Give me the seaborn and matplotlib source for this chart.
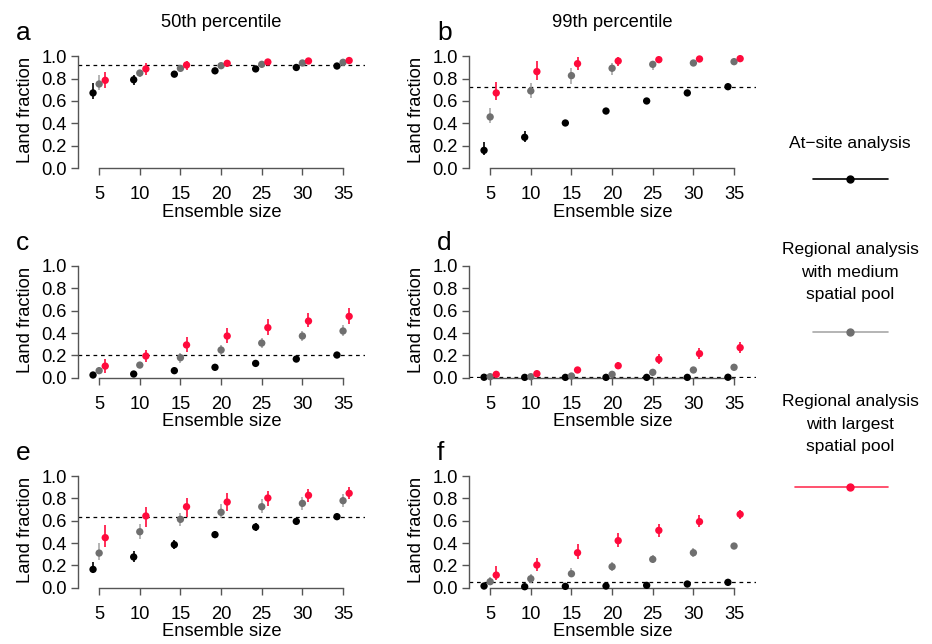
import numpy as np
import pandas as pd
import matplotlib.pyplot as plt
import seaborn as sns
from matplotlib.lines import Line2D

sns.set_style("ticks")
plt.rcParams['font.family'] = ['Liberation Sans', 'DejaVu Sans']
plt.rcParams['text.color'] = 'black'
plt.rcParams['axes.labelcolor'] = 'black'
plt.rcParams['xtick.labelcolor'] = 'black'
plt.rcParams['ytick.labelcolor'] = 'black'

# ensemble sizes on the x axis
sizes = [5, 10, 15, 20, 25, 30, 35]
methods = ["At-site", "Medium pool", "Largest pool"]

# each panel: rows = at-site, medium pool, largest pool
a_val = [[0.672, 0.79, 0.84, 0.87, 0.887, 0.90, 0.913],
         [0.752, 0.85, 0.892, 0.916, 0.928, 0.94, 0.946],
         [0.785, 0.887, 0.922, 0.937, 0.949, 0.958, 0.962]]
a_lo = [[0.62, 0.74, 0.82, 0.855, 0.875, 0.89, 0.905],
        [0.695, 0.815, 0.87, 0.90, 0.915, 0.93, 0.937],
        [0.716, 0.836, 0.88, 0.905, 0.93, 0.94, 0.95]]
a_hi = [[0.76, 0.835, 0.86, 0.885, 0.90, 0.91, 0.922],
        [0.836, 0.88, 0.915, 0.93, 0.94, 0.95, 0.955],
        [0.86, 0.94, 0.958, 0.97, 0.97, 0.975, 0.975]]
a_thr = 0.919

b_val = [[0.158, 0.275, 0.403, 0.51, 0.60, 0.672, 0.728],
         [0.457, 0.69, 0.827, 0.893, 0.928, 0.94, 0.952],
         [0.672, 0.863, 0.934, 0.958, 0.97, 0.976, 0.979]]
b_lo = [[0.113, 0.233, 0.373, 0.49, 0.585, 0.66, 0.72],
        [0.403, 0.63, 0.755, 0.836, 0.88, 0.91, 0.935],
        [0.612, 0.785, 0.88, 0.916, 0.945, 0.96, 0.965]]
b_hi = [[0.233, 0.331, 0.433, 0.53, 0.615, 0.685, 0.74],
        [0.537, 0.764, 0.899, 0.94, 0.958, 0.97, 0.965],
        [0.77, 0.955, 0.994, 0.994, 0.99, 0.99, 0.99]]
b_thr = 0.728

c_val = [[0.024, 0.033, 0.063, 0.093, 0.128, 0.167, 0.203],
         [0.063, 0.113, 0.179, 0.248, 0.31, 0.373, 0.418],
         [0.104, 0.194, 0.293, 0.373, 0.448, 0.507, 0.549]]
c_lo = [[0.01, 0.02, 0.05, 0.08, 0.115, 0.155, 0.19],
        [0.033, 0.084, 0.134, 0.203, 0.269, 0.331, 0.373],
        [0.045, 0.143, 0.233, 0.307, 0.382, 0.451, 0.481]]
c_hi = [[0.05, 0.05, 0.078, 0.108, 0.142, 0.18, 0.215],
        [0.098, 0.143, 0.224, 0.293, 0.352, 0.418, 0.472],
        [0.167, 0.248, 0.361, 0.448, 0.522, 0.582, 0.621]]
c_thr = 0.2

d_val = [[0.004, 0.003, 0.003, 0.003, 0.003, 0.003, 0.004],
         [0.009, 0.009, 0.015, 0.03, 0.048, 0.069, 0.093],
         [0.03, 0.036, 0.069, 0.107, 0.164, 0.215, 0.269]]
d_lo = [[0.001, 0.0, 0.0, 0.0, 0.0, 0.0, 0.001],
        [0.002, 0.003, 0.006, 0.018, 0.033, 0.054, 0.075],
        [0.015, 0.02, 0.048, 0.084, 0.122, 0.164, 0.218]]
d_hi = [[0.014, 0.01, 0.01, 0.01, 0.01, 0.01, 0.012],
        [0.02, 0.018, 0.027, 0.045, 0.063, 0.087, 0.113],
        [0.048, 0.056, 0.095, 0.137, 0.212, 0.27, 0.322]]
d_thr = 0.002

e_val = [[0.164, 0.275, 0.385, 0.475, 0.543, 0.594, 0.636],
         [0.31, 0.501, 0.612, 0.675, 0.725, 0.755, 0.779],
         [0.448, 0.642, 0.725, 0.767, 0.803, 0.827, 0.845]]
e_lo = [[0.128, 0.233, 0.343, 0.442, 0.51, 0.57, 0.615],
        [0.248, 0.439, 0.552, 0.621, 0.666, 0.696, 0.725],
        [0.361, 0.546, 0.636, 0.686, 0.731, 0.77, 0.791]]
e_hi = [[0.233, 0.331, 0.427, 0.51, 0.576, 0.62, 0.655],
        [0.403, 0.567, 0.672, 0.749, 0.791, 0.815, 0.836],
        [0.564, 0.719, 0.806, 0.851, 0.869, 0.883, 0.899]]
e_thr = 0.636

f_val = [[0.015, 0.009, 0.012, 0.015, 0.021, 0.033, 0.048],
         [0.054, 0.08, 0.125, 0.188, 0.254, 0.313, 0.373],
         [0.113, 0.203, 0.313, 0.421, 0.513, 0.591, 0.657]]
f_lo = [[0.006, 0.003, 0.005, 0.007, 0.012, 0.022, 0.036],
        [0.021, 0.045, 0.093, 0.149, 0.218, 0.279, 0.343],
        [0.069, 0.149, 0.254, 0.361, 0.457, 0.54, 0.612]]
f_hi = [[0.025, 0.018, 0.02, 0.024, 0.03, 0.044, 0.06],
        [0.1, 0.119, 0.173, 0.233, 0.292, 0.352, 0.397],
        [0.194, 0.263, 0.388, 0.487, 0.57, 0.648, 0.7]]
f_thr = 0.048

panels = [("a", a_val, a_lo, a_hi, a_thr), ("b", b_val, b_lo, b_hi, b_thr),
          ("c", c_val, c_lo, c_hi, c_thr), ("d", d_val, d_lo, d_hi, d_thr),
          ("e", e_val, e_lo, e_hi, e_thr), ("f", f_val, f_lo, f_hi, f_thr)]

point_cols = {"At-site": "#000000", "Medium pool": "#6f6f6f", "Largest pool": "#ff0a3c"}
bar_cols = {"At-site": "#000000", "Medium pool": "#a8a8a8", "Largest pool": "#ff0a3c"}
shift = {"At-site": -0.75, "Medium pool": 0.0, "Largest pool": 0.75}

W, H = 932, 644
fig = plt.figure(figsize=(W / 100, H / 100), dpi=100)

lefts = [78, 469]
bottoms = [168, 377.7, 587.7]   # pixel row of y = 0 for each panel row
unit = 111.7                     # pixels for 0..1
fs = 13.2


def make_df(vals, lo, hi):
    rows = []
    for m, v, l, h in zip(methods, vals, lo, hi):
        for s, vv, ll, hh in zip(sizes, v, l, h):
            rows.append({"method": m, "size": s, "x": s + shift[m], "frac": vv, "lo": ll, "hi": hh})
    return pd.DataFrame(rows)


for i, (letter, vals, lo, hi, thr) in enumerate(panels):
    r, c = divmod(i, 2)
    ax = fig.add_axes([lefts[c] / W, (H - bottoms[r]) / H, 287 / W, 1.04 * unit / H])
    df = make_df(vals, lo, hi)
    ax.axhline(thr, color="black", lw=0.9, ls=(0, (3, 3)), zorder=1)
    for m in methods:
        sub = df[df.method == m]
        ax.vlines(sub.x, sub.lo, sub.hi, color=bar_cols[m], lw=1.2, zorder=2, clip_on=False)
    sns.scatterplot(data=df, x="x", y="frac", hue="method", palette=point_cols, s=28,
                    edgecolor="none", legend=False, ax=ax, zorder=3, clip_on=False)
    ax.set_xlim(2.4, 37.7)
    ax.set_ylim(0, 1.04)
    ax.set_xticks(sizes)
    ax.set_yticks([0, 0.2, 0.4, 0.6, 0.8, 1.0])
    ax.set_yticklabels(["0.0", "0.2", "0.4", "0.6", "0.8", "1.0"])
    sns.despine(ax=ax)
    ax.spines["left"].set_bounds(0, 1)
    ax.spines["bottom"].set_bounds(5, 35)
    for sp in ["left", "bottom"]:
        ax.spines[sp].set_color("#555555")
        ax.spines[sp].set_linewidth(1.0)
    ax.tick_params(axis="both", labelsize=fs, length=5, width=1.0, color="#555555", pad=3)
    ax.tick_params(axis="x", pad=8)
    ax.set_xlabel("Ensemble size", fontsize=fs, labelpad=0.5)
    ax.set_ylabel("Land fraction", fontsize=fs, labelpad=5)
    fig.text((lefts[c] - 62 + 30 * c) / W, (H - (bottoms[r] - 128)) / H, letter,
             fontsize=19, va="baseline", ha="left")
    if r == 0:
        ax.set_title(["50th percentile", "99th percentile"][c], fontsize=fs, pad=18)

# legend panel on the right, in pixel coordinates
lg = fig.add_axes([0, 0, 1, 1], zorder=-1)
lg.set_xlim(0, W)
lg.set_ylim(H, 0)
lg.axis("off")
leg_text = ["At\u2212site analysis",
            "Regional analysis\nwith medium\nspatial pool",
            "Regional analysis\nwith largest\nspatial pool"]
leg_text_y = [143, 272, 424]
leg_line_y = [179, 332, 487]
leg_line_x0 = [813, 813, 795]
line_cols = ["#000000", "#a8a8a8", "#ff3355"]
for m, t, ty, ly, x0, lc in zip(methods, leg_text, leg_text_y, leg_line_y, leg_line_x0, line_cols):
    lg.text(850, ty, t, ha="center", va="center", fontsize=12.5, linespacing=1.6)
    lg.add_line(Line2D([x0, 888], [ly, ly], color=lc, lw=1.2))
    lg.plot([850], [ly], "o", color=point_cols[m], ms=5)

fig.savefig("out.png", dpi=100)
